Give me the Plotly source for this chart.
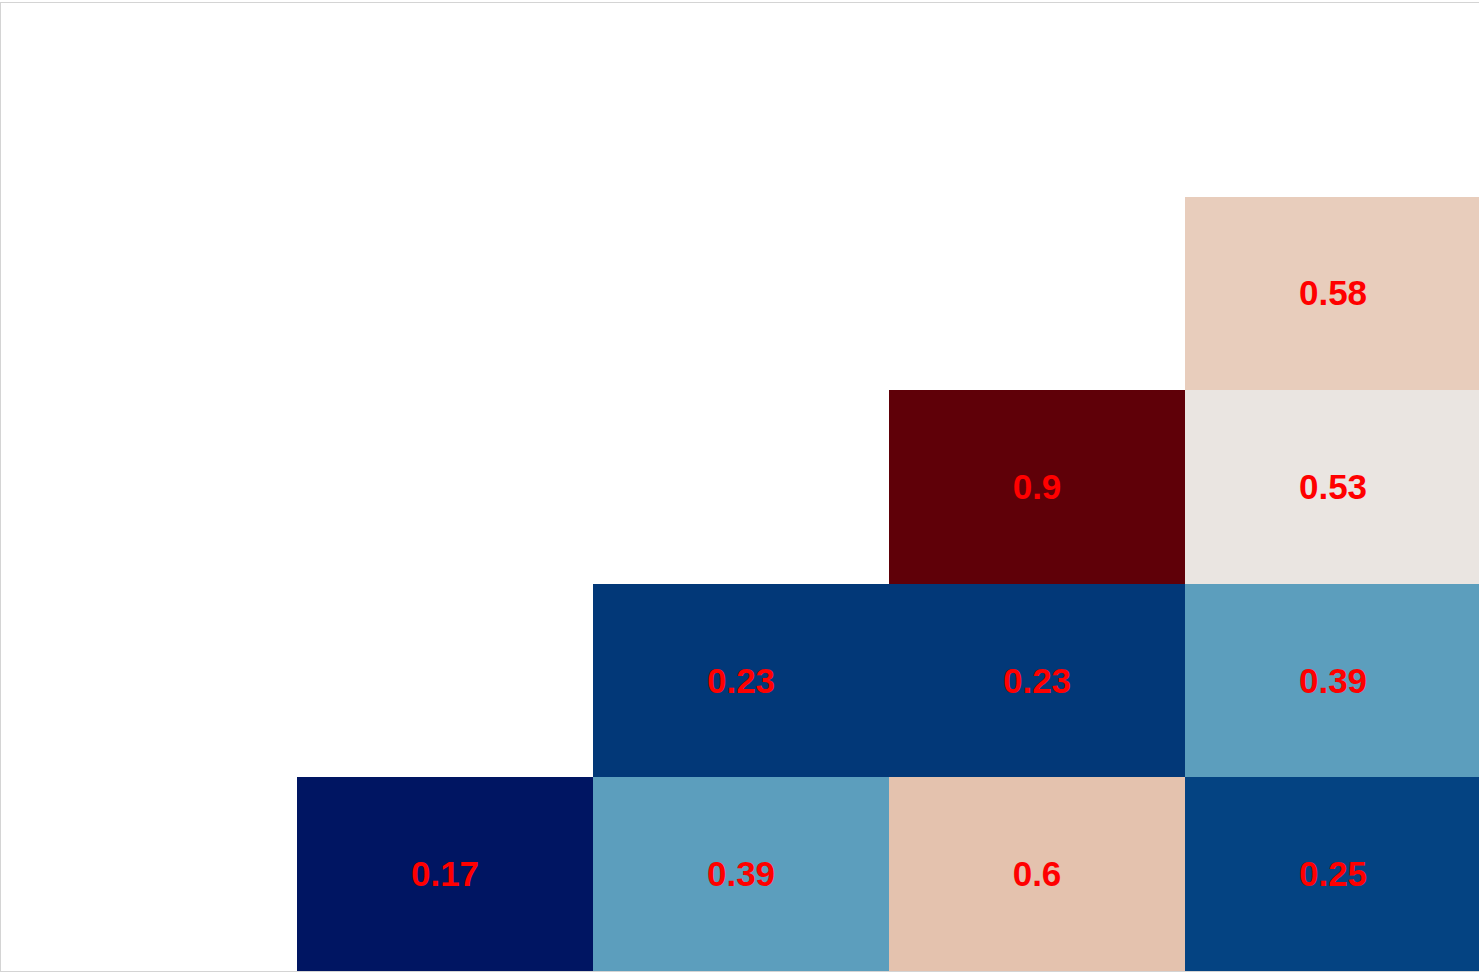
import plotly.graph_objects as go

# Lower-triangle correlation-style grid (rows top to bottom, columns left to right)
row_labels = ["r0", "r1", "r2", "r3", "r4"]
col_labels = ["c0", "c1", "c2", "c3", "c4"]
row0 = [None, None, None, None, None]
row1 = [None, None, None, None, 0.58]
row2 = [None, None, None, 0.9, 0.53]
row3 = [None, None, 0.23, 0.23, 0.39]
row4 = [None, 0.17, 0.39, 0.6, 0.25]
z = [row0, row1, row2, row3, row4]

# Diverging blue-white-red palette anchored on value levels
anchor_values = [0.17, 0.23, 0.25, 0.39, 0.53, 0.58, 0.6, 0.9]
anchor_colors = [
    "rgb(0,21,98)",
    "rgb(2,56,120)",
    "rgb(4,67,130)",
    "rgb(92,158,189)",
    "rgb(234,229,225)",
    "rgb(232,205,188)",
    "rgb(228,194,174)",
    "rgb(95,0,8)",
]
zmin, zmax = min(anchor_values), max(anchor_values)
colorscale = [[(v - zmin) / (zmax - zmin), c] for v, c in zip(anchor_values, anchor_colors)]

fig = go.Figure(
    go.Heatmap(
        z=z,
        x=list(range(len(col_labels))),
        y=list(range(len(row_labels))),
        zmin=zmin,
        zmax=zmax,
        colorscale=colorscale,
        showscale=False,
        texttemplate="%{z}",
        textfont=dict(family="Liberation Sans, Arial, sans-serif", size=35, color="red", weight="bold"),
        hoverinfo="skip",
    )
)

fig.update_xaxes(
    range=[-0.5, 4.493],
    showticklabels=False,
    ticks="",
    showgrid=False,
    zeroline=False,
    showline=True,
    mirror=True,
    linecolor="#d4d4d4",
    linewidth=1,
)
fig.update_yaxes(
    range=[4.5, -0.5],
    showticklabels=False,
    ticks="",
    showgrid=False,
    zeroline=False,
    showline=True,
    mirror=True,
    linecolor="#d4d4d4",
    linewidth=1,
)

fig.update_layout(
    width=1479,
    height=973,
    margin=dict(l=1, r=0, t=3, b=2),
    paper_bgcolor="white",
    plot_bgcolor="white",
)

fig.write_html("out.html")
